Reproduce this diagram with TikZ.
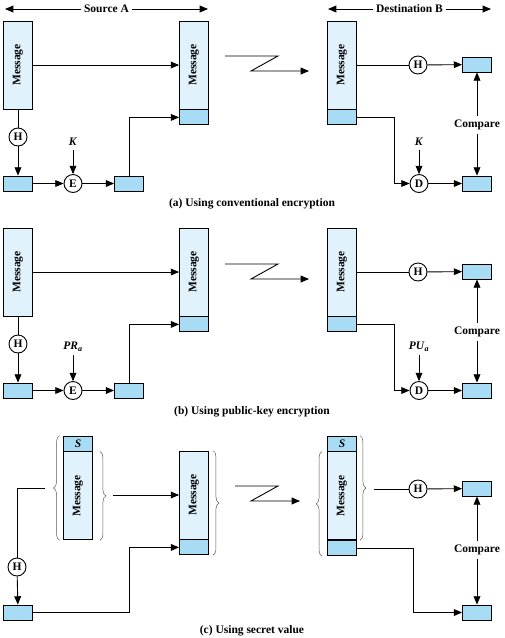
\documentclass[tikz,border=0pt]{standalone}
\usepackage{fontspec}
\setmainfont{Liberation Serif}
\usetikzlibrary{positioning}
\usetikzlibrary{arrows}
\usetikzlibrary{decorations.pathreplacing}
\definecolor{msgblue}{RGB}{224,242,252}
\definecolor{tagblue}{RGB}{168,220,245}
\tikzstyle{M} = [rectangle,draw=black,fill=msgblue,minimum width=29pt,minimum height=88pt,inner sep=0pt]
\tikzstyle{T} = [M,fill=tagblue,minimum height=15pt]
\tikzstyle{F} = [circle,draw=black,fill=white,minimum size=18pt,inner sep=0pt]
\tikzstyle{B} = [decorate,decoration={brace,amplitude=6pt},draw=black!65,line width=0.5pt]
\tikzset{>={triangle 45}}

\begin{document}
\begin{tikzpicture}[x=1pt,y=-1pt,line width=0.9pt,font=\fontsize{11.5}{13}\bfseries\selectfont]
  \useasboundingbox (0,0) rectangle (504,638);

  \coordinate (s1) at (5,9);
  \coordinate (s2) at (208,9);
  \coordinate (d1) at (328,9);
  \coordinate (d2) at (491,9);
  \draw [<->] (s1) -- (s2) node [midway,fill=white] {Source A};
  \draw [<->] (d1) -- (d2) node [midway,fill=white] {Destination B};

  % (a)
  \node [M] (n1) at (18,65) {\rotatebox{90}{Message}};
  \node [F] (n2) at (18,137) {H};
  \node [T] (n3) at (18,183.5) {};
  \node [F] (n4) at (73,183.5) {E};
  \node (n5) at (73,142) {\textit{K}};
  \node [T] (n6) at (129,183.5) {};
  \node [M] (n7) at (194,65) {\rotatebox{90}{Message}};
  \node [T,below=0pt of n7] (n8) {};
  \draw [->] (n1) -- (n7);
  \draw (n1) -- (n2);
  \draw [->] (n2) -- (n3);
  \draw [->] (n3) -- (n4);
  \draw [->] (n5) -- (n4);
  \draw [->] (n4) -- (n6);
  \draw [->] (n6) |- (n8);

  \draw [->] (225,56) -- (278,56) -- (251,71) -- (309,71);

  \node [M] (n9) at (342,65) {\rotatebox{90}{Message}};
  \node [T,below=0pt of n9] (n10) {};
  \node [F] (n11) at (418,65) {H};
  \node [T] (n12) at (477,64.5) {};
  \node (n13) at (477,125) {Compare};
  \node [F] (n14) at (419,183.5) {D};
  \node (n15) at (419,142) {\textit{K}};
  \node [T] (n16) at (477,183.5) {};
  \draw (n9) -- (n11);
  \draw [->] (n11) -- (n12);
  \draw [->] (n10.east) -- ++(37,0) |- (n14);
  \draw [->] (n15) -- (n14);
  \draw [->] (n14) -- (n16);
  \draw [->] (n13) -- (n12);
  \draw [->] (n13) -- (n16);
  \node (cap1) at (252,204) {(a) Using conventional encryption};

  % (b)
  \begin{scope}[yshift=-207pt]
  \node [M] (n21) at (18,65) {\rotatebox{90}{Message}};
  \node [F] (n22) at (18,137) {H};
  \node [T] (n23) at (18,183.5) {};
  \node [F] (n24) at (73,183.5) {E};
  \node (n25) at (73,140) {\textit{PR}\textsubscript{\textit{a}}};
  \node [T] (n26) at (129,183.5) {};
  \node [M] (n27) at (194,65) {\rotatebox{90}{Message}};
  \node [T,below=0pt of n27] (n28) {};
  \draw [->] (n21) -- (n27);
  \draw (n21) -- (n22);
  \draw [->] (n22) -- (n23);
  \draw [->] (n23) -- (n24);
  \draw [->] (n25) -- (n24);
  \draw [->] (n24) -- (n26);
  \draw [->] (n26) |- (n28);

  \draw [->] (225,57) -- (278,57) -- (251,72) -- (309,72);

  \node [M] (n29) at (342,65) {\rotatebox{90}{Message}};
  \node [T,below=0pt of n29] (n30) {};
  \node [F] (n31) at (418,65) {H};
  \node [T] (n32) at (477,64.5) {};
  \node (n33) at (477,125) {Compare};
  \node [F] (n34) at (419,183.5) {D};
  \node (n35) at (419,140) {\textit{PU}\textsubscript{\textit{a}}};
  \node [T] (n36) at (477,183.5) {};
  \draw (n29) -- (n31);
  \draw [->] (n31) -- (n32);
  \draw [->] (n30.east) -- ++(37,0) |- (n34);
  \draw [->] (n35) -- (n34);
  \draw [->] (n34) -- (n36);
  \draw [->] (n33) -- (n32);
  \draw [->] (n33) -- (n36);
  \node (cap2) at (252,205) {(b) Using public-key encryption};
  \end{scope}

  % (c)
  \node [T] (n41) at (78,443.5) {\textit{S}};
  \node [M,below=0pt of n41] (n42) {\rotatebox{90}{Message}};
  \coordinate (k1) at (45,488);
  \node [F] (n43) at (17,567) {H};
  \node [T] (n44) at (18,612.5) {};
  \coordinate (k2) at (113,495);
  \node [M] (n45) at (194,495) {\rotatebox{90}{Message}};
  \node [T,below=0pt of n45] (n46) {};
  \draw [B] ([xshift=-3.5pt]n42.south west) -- ([xshift=-3.5pt]n41.north west);
  \draw [B] ([xshift=7pt]n42.north east) -- ([xshift=7pt]n42.south east);
  \draw [B] ([xshift=4pt]n45.north east) -- ([xshift=4pt]n46.south east);
  \draw (k1) -| (n43);
  \draw [->] (n43) -- (n44);
  \draw [->] (k2) -- (n45);
  \draw [->] (n44.east) -- ++(96,0) |- (n46);

  \draw [->] (235,486) -- (278,486) -- (251,501) -- (300,501);

  \node [T] (n47) at (342,443.5) {\textit{S}};
  \node [M,below=0pt of n47] (n48) {\rotatebox{90}{Message}};
  \node [T,below=0pt of n48] (n49) {};
  \draw [B] ([xshift=-5pt]n49.south west) -- ([xshift=-5pt]n48.north west);
  \draw [B] ([xshift=3pt]n47.north east) -- ([xshift=3pt]n48.south east);
  \coordinate (k3) at (374,489);
  \node [F] (n50) at (418,489) {H};
  \node [T] (n51) at (477,488.5) {};
  \node (n52) at (477,550) {Compare};
  \node [T] (n53) at (477,612.5) {};
  \draw (k3) -- (n50);
  \draw [->] (n50) -- (n51);
  \draw [->] (n49.east) -- ++(56,0) |- (n53);
  \draw [->] (n52) -- (n51);
  \draw [->] (n52) -- (n53);
  \node (cap3) at (252,631) {(c) Using secret value};
\end{tikzpicture}
\end{document}
